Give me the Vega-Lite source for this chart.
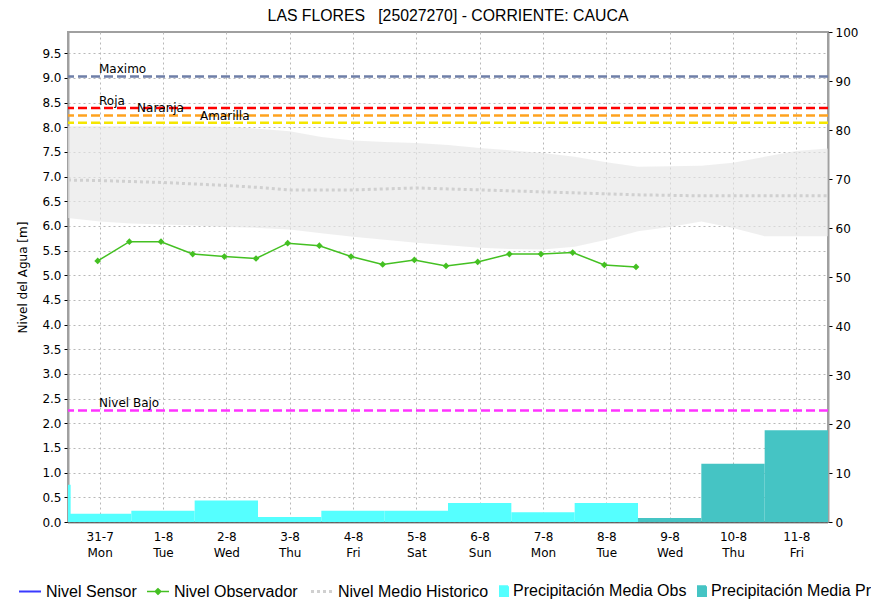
{
  "$schema": "https://vega.github.io/schema/vega-lite/v6.json",
  "width": 760,
  "height": 490,
  "autosize": {"type": "none"},
  "padding": {"left": 68, "top": 32, "right": 43, "bottom": 84},
  "background": "white",
  "title": {
    "text": "LAS FLORES \u00a0 [25027270] - CORRIENTE: CAUCA",
    "font": "Liberation Sans",
    "fontSize": 15.8,
    "fontWeight": "normal",
    "color": "#000000",
    "anchor": "middle",
    "baseline": "bottom",
    "offset": 9,
    "dy": 23
  },
  "config": {
    "view": {"stroke": "#a0a0a0", "strokeWidth": 2},
    "axis": {
      "labelFont": "DejaVu Sans",
      "labelFontSize": 12,
      "labelColor": "#000000",
      "titleFont": "DejaVu Sans",
      "titleFontSize": 12,
      "titleFontWeight": "normal",
      "titleColor": "#000000"
    }
  },
  "datasets": {
    "hist": [
      {"t": "2023-07-30T12:00", "sup": 8.02, "inf": 6.16, "media": 6.93, "serie": "Nivel Medio Historico"},
      {"t": "2023-07-31T00:00", "sup": 8.02, "inf": 6.09, "media": 6.92, "serie": "Nivel Medio Historico"},
      {"t": "2023-07-31T12:00", "sup": 8.02, "inf": 6.05, "media": 6.90, "serie": "Nivel Medio Historico"},
      {"t": "2023-08-01T00:00", "sup": 8.02, "inf": 6.03, "media": 6.88, "serie": "Nivel Medio Historico"},
      {"t": "2023-08-01T12:00", "sup": 8.02, "inf": 6.01, "media": 6.85, "serie": "Nivel Medio Historico"},
      {"t": "2023-08-02T00:00", "sup": 8.01, "inf": 5.98, "media": 6.82, "serie": "Nivel Medio Historico"},
      {"t": "2023-08-02T12:00", "sup": 7.97, "inf": 5.96, "media": 6.78, "serie": "Nivel Medio Historico"},
      {"t": "2023-08-03T00:00", "sup": 7.92, "inf": 5.93, "media": 6.73, "serie": "Nivel Medio Historico"},
      {"t": "2023-08-03T12:00", "sup": 7.80, "inf": 5.85, "media": 6.73, "serie": "Nivel Medio Historico"},
      {"t": "2023-08-04T00:00", "sup": 7.73, "inf": 5.78, "media": 6.73, "serie": "Nivel Medio Historico"},
      {"t": "2023-08-04T12:00", "sup": 7.70, "inf": 5.72, "media": 6.75, "serie": "Nivel Medio Historico"},
      {"t": "2023-08-05T00:00", "sup": 7.68, "inf": 5.66, "media": 6.77, "serie": "Nivel Medio Historico"},
      {"t": "2023-08-05T12:00", "sup": 7.64, "inf": 5.61, "media": 6.75, "serie": "Nivel Medio Historico"},
      {"t": "2023-08-06T00:00", "sup": 7.58, "inf": 5.56, "media": 6.73, "serie": "Nivel Medio Historico"},
      {"t": "2023-08-06T12:00", "sup": 7.53, "inf": 5.53, "media": 6.71, "serie": "Nivel Medio Historico"},
      {"t": "2023-08-07T00:00", "sup": 7.48, "inf": 5.52, "media": 6.69, "serie": "Nivel Medio Historico"},
      {"t": "2023-08-07T12:00", "sup": 7.40, "inf": 5.58, "media": 6.67, "serie": "Nivel Medio Historico"},
      {"t": "2023-08-08T00:00", "sup": 7.29, "inf": 5.72, "media": 6.65, "serie": "Nivel Medio Historico"},
      {"t": "2023-08-08T12:00", "sup": 7.20, "inf": 5.89, "media": 6.63, "serie": "Nivel Medio Historico"},
      {"t": "2023-08-09T00:00", "sup": 7.21, "inf": 5.98, "media": 6.62, "serie": "Nivel Medio Historico"},
      {"t": "2023-08-09T12:00", "sup": 7.22, "inf": 6.09, "media": 6.61, "serie": "Nivel Medio Historico"},
      {"t": "2023-08-10T00:00", "sup": 7.28, "inf": 5.96, "media": 6.61, "serie": "Nivel Medio Historico"},
      {"t": "2023-08-10T12:00", "sup": 7.40, "inf": 5.79, "media": 6.61, "serie": "Nivel Medio Historico"},
      {"t": "2023-08-11T00:00", "sup": 7.52, "inf": 5.79, "media": 6.61, "serie": "Nivel Medio Historico"},
      {"t": "2023-08-11T12:00", "sup": 7.57, "inf": 5.79, "media": 6.61, "serie": "Nivel Medio Historico"}
    ],
    "obs": [
      {"t": "2023-07-30T23:15", "nivel": 5.29, "serie": "Nivel Observador"},
      {"t": "2023-07-31T11:15", "nivel": 5.68, "serie": "Nivel Observador"},
      {"t": "2023-07-31T23:15", "nivel": 5.68, "serie": "Nivel Observador"},
      {"t": "2023-08-01T11:15", "nivel": 5.43, "serie": "Nivel Observador"},
      {"t": "2023-08-01T23:15", "nivel": 5.38, "serie": "Nivel Observador"},
      {"t": "2023-08-02T11:15", "nivel": 5.34, "serie": "Nivel Observador"},
      {"t": "2023-08-02T23:15", "nivel": 5.65, "serie": "Nivel Observador"},
      {"t": "2023-08-03T11:15", "nivel": 5.60, "serie": "Nivel Observador"},
      {"t": "2023-08-03T23:15", "nivel": 5.38, "serie": "Nivel Observador"},
      {"t": "2023-08-04T11:15", "nivel": 5.22, "serie": "Nivel Observador"},
      {"t": "2023-08-04T23:15", "nivel": 5.31, "serie": "Nivel Observador"},
      {"t": "2023-08-05T11:15", "nivel": 5.19, "serie": "Nivel Observador"},
      {"t": "2023-08-05T23:15", "nivel": 5.27, "serie": "Nivel Observador"},
      {"t": "2023-08-06T11:15", "nivel": 5.43, "serie": "Nivel Observador"},
      {"t": "2023-08-06T23:15", "nivel": 5.43, "serie": "Nivel Observador"},
      {"t": "2023-08-07T11:15", "nivel": 5.46, "serie": "Nivel Observador"},
      {"t": "2023-08-07T23:15", "nivel": 5.21, "serie": "Nivel Observador"},
      {"t": "2023-08-08T11:15", "nivel": 5.17, "serie": "Nivel Observador"}
    ],
    "precip": [
      {"t": "2023-07-30T12:00", "t2": "2023-07-30T13:00", "valor": 7.6, "serie": "Precipitación Media Obs"},
      {"t": "2023-07-30T12:00", "t2": "2023-07-31T12:00", "valor": 1.7, "serie": "Precipitación Media Obs"},
      {"t": "2023-07-31T12:00", "t2": "2023-08-01T12:00", "valor": 2.3, "serie": "Precipitación Media Obs"},
      {"t": "2023-08-01T12:00", "t2": "2023-08-02T12:00", "valor": 4.4, "serie": "Precipitación Media Obs"},
      {"t": "2023-08-02T12:00", "t2": "2023-08-03T12:00", "valor": 1.0, "serie": "Precipitación Media Obs"},
      {"t": "2023-08-03T12:00", "t2": "2023-08-04T12:00", "valor": 2.3, "serie": "Precipitación Media Obs"},
      {"t": "2023-08-04T12:00", "t2": "2023-08-05T12:00", "valor": 2.3, "serie": "Precipitación Media Obs"},
      {"t": "2023-08-05T12:00", "t2": "2023-08-06T12:00", "valor": 3.9, "serie": "Precipitación Media Obs"},
      {"t": "2023-08-06T12:00", "t2": "2023-08-07T12:00", "valor": 2.0, "serie": "Precipitación Media Obs"},
      {"t": "2023-08-07T12:00", "t2": "2023-08-08T12:00", "valor": 3.9, "serie": "Precipitación Media Obs"},
      {"t": "2023-08-08T12:00", "t2": "2023-08-09T12:00", "valor": 0.8, "serie": "Precipitación Media Pronosticada"},
      {"t": "2023-08-09T12:00", "t2": "2023-08-10T12:00", "valor": 11.9, "serie": "Precipitación Media Pronosticada"},
      {"t": "2023-08-10T12:00", "t2": "2023-08-11T12:00", "valor": 18.7, "serie": "Precipitación Media Pronosticada"}
    ],
    "umbrales": [
      {"nombre": "Maximo", "nivel": 9.03},
      {"nombre": "Roja", "nivel": 8.39},
      {"nombre": "Naranja", "nivel": 8.24},
      {"nombre": "Amarilla", "nivel": 8.09},
      {"nombre": "Nivel Bajo", "nivel": 2.26}
    ]
  },
  "layer": [
    {
      "layer": [
        {
          "data": {"name": "hist"},
          "mark": {"type": "area", "color": "#e6e6e6", "opacity": 0.65},
          "encoding": {
            "x": {
              "field": "t", "type": "temporal",
              "scale": {"domain": [{"year": 2023, "month": 7, "date": 30, "hours": 12}, {"year": 2023, "month": 8, "date": 11, "hours": 12}]},
              "axis": {
                "title": null,
                "tickCount": {"interval": "day", "step": 1},
                "labelExpr": "[timeFormat(datum.value, '%-d-%-m'), timeFormat(datum.value, '%a')]",
                "grid": true, "gridColor": "#b8b8b8", "gridDash": [2, 3],
                "ticks": false, "tickSize": 0, "labelPadding": 9, "labelLineHeight": 16,
                "labelFlush": false, "labelOverlap": false,
                "domainColor": "#222222", "domainDash": [1, 1], "domainWidth": 2
              }
            },
            "y": {
              "field": "sup", "type": "quantitative",
              "scale": {"domain": [0, 9.93], "nice": false},
              "axis": {
                "title": "Nivel del Agua [m]", "titlePadding": 12,
                "values": [0, 0.5, 1, 1.5, 2, 2.5, 3, 3.5, 4, 4.5, 5, 5.5, 6, 6.5, 7, 7.5, 8, 8.5, 9, 9.5],
                "format": ".1f",
                "grid": true, "gridColor": "#b8b8b8", "gridDash": [2, 3],
                "tickSize": 4, "tickColor": "#000000", "labelPadding": 3, "labelFlush": false, "labelOverlap": false,
                "domainColor": "#a0a0a0", "domainWidth": 2
              }
            },
            "y2": {"field": "inf"}
          }
        },
        {
          "data": {"name": "hist"},
          "mark": {"type": "line", "strokeDash": [3, 3], "strokeWidth": 3},
          "encoding": {
            "x": {"field": "t", "type": "temporal"},
            "y": {
              "field": "media", "type": "quantitative",
              "axis": {
                "title": "Nivel del Agua [m]", "titlePadding": 12,
                "values": [0, 0.5, 1, 1.5, 2, 2.5, 3, 3.5, 4, 4.5, 5, 5.5, 6, 6.5, 7, 7.5, 8, 8.5, 9, 9.5],
                "format": ".1f",
                "grid": true, "gridColor": "#b8b8b8", "gridDash": [2, 3],
                "tickSize": 4, "tickColor": "#000000", "labelPadding": 3, "labelFlush": false, "labelOverlap": false,
                "domainColor": "#a0a0a0", "domainWidth": 2
              }
            },
            "color": {
              "field": "serie", "type": "nominal",
              "scale": {
                "domain": ["Nivel Sensor", "Nivel Observador", "Nivel Medio Historico", "Precipitación Media Obs", "Precipitación Media Pronosticada"],
                "range": ["#3a3aff", "#44c022", "#d0d0d0", "#55ffff", "#45c4c4"]
              },
              "legend": {
                "orient": "none", "legendX": -39, "legendY": 551,
                "direction": "horizontal", "title": null, "padding": 0,
                "labelFont": "Liberation Sans",
                "labelFontSize": 16, "labelColor": "#000000", "labelLimit": 400,
                "labelExpr": "(datum.label == 'Nivel Sensor' || datum.label == 'Nivel Observador') ? datum.label + '\u00a0\u00a0\u00a0' : datum.label",
                "symbolSize": 64, "labelOffset": 1, "columnPadding": 7,
                "encode": {
                  "symbols": {
                    "update": {
                      "shape": {"signal": "datum.value == 'Nivel Observador' ? 'M-4.5,0L1,0M-2.45,0L-1.75,-0.7L-1.05,0L-1.75,0.7Z' : (indexof(datum.value, 'Precipitaci') == 0 ? 'M-1,-1.2L1,-1.2L1,1.2L-1,1.2Z' : 'M-4.5,0L1,0')"},
                      "fill": {"scale": "color", "field": "value"},
                      "stroke": {"scale": "color", "field": "value"},
                      "strokeWidth": {"signal": "datum.value == 'Nivel Medio Historico' ? 3 : (datum.value == 'Nivel Observador' ? 1.5 : 2)"},
                      "strokeDash": {"signal": "datum.value == 'Nivel Medio Historico' ? [3, 3] : [1, 0]"},
                      "opacity": {"value": 1}
                    }
                  }
                }
              }
            }
          }
        },
        {
          "data": {"name": "umbrales"},
          "mark": {"type": "rule", "strokeDash": [9, 4], "strokeWidth": 2.5},
          "encoding": {
            "y": {
              "field": "nivel", "type": "quantitative",
              "axis": {
                "title": "Nivel del Agua [m]", "titlePadding": 12,
                "values": [0, 0.5, 1, 1.5, 2, 2.5, 3, 3.5, 4, 4.5, 5, 5.5, 6, 6.5, 7, 7.5, 8, 8.5, 9, 9.5],
                "format": ".1f",
                "grid": true, "gridColor": "#b8b8b8", "gridDash": [2, 3],
                "tickSize": 4, "tickColor": "#000000", "labelPadding": 3, "labelFlush": false, "labelOverlap": false,
                "domainColor": "#a0a0a0", "domainWidth": 2
              }
            },
            "stroke": {
              "field": "nombre", "type": "nominal",
              "scale": {"domain": ["Maximo", "Roja", "Naranja", "Amarilla", "Nivel Bajo"], "range": ["#6f7fa8", "#ff0000", "#ffa21f", "#f5e600", "#ff33ff"]},
              "legend": null
            }
          }
        },
        {
          "data": {"name": "umbrales"},
          "transform": [{"filter": "indexof(['Maximo', 'Roja', 'Nivel Bajo'], datum.nombre) >= 0"}],
          "mark": {"type": "text", "align": "left", "baseline": "middle", "dy": -7, "font": "DejaVu Sans", "fontSize": 12, "color": "#000000"},
          "encoding": {
            "x": {"datum": {"year": 2023, "month": 7, "date": 30, "hours": 23, "minutes": 45}, "type": "temporal"},
            "y": {
              "field": "nivel", "type": "quantitative",
              "axis": {
                "title": "Nivel del Agua [m]", "titlePadding": 12,
                "values": [0, 0.5, 1, 1.5, 2, 2.5, 3, 3.5, 4, 4.5, 5, 5.5, 6, 6.5, 7, 7.5, 8, 8.5, 9, 9.5],
                "format": ".1f",
                "grid": true, "gridColor": "#b8b8b8", "gridDash": [2, 3],
                "tickSize": 4, "tickColor": "#000000", "labelPadding": 3, "labelFlush": false, "labelOverlap": false,
                "domainColor": "#a0a0a0", "domainWidth": 2
              }
            },
            "text": {"field": "nombre"}
          }
        },
        {
          "data": {"name": "umbrales"},
          "transform": [{"filter": "datum.nombre == 'Naranja'"}],
          "mark": {"type": "text", "align": "left", "baseline": "middle", "dy": -7, "font": "DejaVu Sans", "fontSize": 12, "color": "#000000"},
          "encoding": {
            "x": {"datum": {"year": 2023, "month": 7, "date": 31, "hours": 14, "minutes": 10}, "type": "temporal"},
            "y": {
              "field": "nivel", "type": "quantitative",
              "axis": {
                "title": "Nivel del Agua [m]", "titlePadding": 12,
                "values": [0, 0.5, 1, 1.5, 2, 2.5, 3, 3.5, 4, 4.5, 5, 5.5, 6, 6.5, 7, 7.5, 8, 8.5, 9, 9.5],
                "format": ".1f",
                "grid": true, "gridColor": "#b8b8b8", "gridDash": [2, 3],
                "tickSize": 4, "tickColor": "#000000", "labelPadding": 3, "labelFlush": false, "labelOverlap": false,
                "domainColor": "#a0a0a0", "domainWidth": 2
              }
            },
            "text": {"field": "nombre"}
          }
        },
        {
          "data": {"name": "umbrales"},
          "transform": [{"filter": "datum.nombre == 'Amarilla'"}],
          "mark": {"type": "text", "align": "left", "baseline": "middle", "dy": -7, "font": "DejaVu Sans", "fontSize": 12, "color": "#000000"},
          "encoding": {
            "x": {"datum": {"year": 2023, "month": 8, "date": 1, "hours": 14}, "type": "temporal"},
            "y": {
              "field": "nivel", "type": "quantitative",
              "axis": {
                "title": "Nivel del Agua [m]", "titlePadding": 12,
                "values": [0, 0.5, 1, 1.5, 2, 2.5, 3, 3.5, 4, 4.5, 5, 5.5, 6, 6.5, 7, 7.5, 8, 8.5, 9, 9.5],
                "format": ".1f",
                "grid": true, "gridColor": "#b8b8b8", "gridDash": [2, 3],
                "tickSize": 4, "tickColor": "#000000", "labelPadding": 3, "labelFlush": false, "labelOverlap": false,
                "domainColor": "#a0a0a0", "domainWidth": 2
              }
            },
            "text": {"field": "nombre"}
          }
        },
        {
          "data": {"name": "obs"},
          "mark": {"type": "line", "strokeWidth": 1.5},
          "encoding": {
            "x": {"field": "t", "type": "temporal"},
            "y": {
              "field": "nivel", "type": "quantitative",
              "axis": {
                "title": "Nivel del Agua [m]", "titlePadding": 12,
                "values": [0, 0.5, 1, 1.5, 2, 2.5, 3, 3.5, 4, 4.5, 5, 5.5, 6, 6.5, 7, 7.5, 8, 8.5, 9, 9.5],
                "format": ".1f",
                "grid": true, "gridColor": "#b8b8b8", "gridDash": [2, 3],
                "tickSize": 4, "tickColor": "#000000", "labelPadding": 3, "labelFlush": false, "labelOverlap": false,
                "domainColor": "#a0a0a0", "domainWidth": 2
              }
            },
            "color": {"field": "serie", "type": "nominal"}
          }
        },
        {
          "data": {"name": "obs"},
          "mark": {"type": "point", "shape": "diamond", "filled": true, "size": 45, "opacity": 1},
          "encoding": {
            "x": {"field": "t", "type": "temporal"},
            "y": {
              "field": "nivel", "type": "quantitative",
              "axis": {
                "title": "Nivel del Agua [m]", "titlePadding": 12,
                "values": [0, 0.5, 1, 1.5, 2, 2.5, 3, 3.5, 4, 4.5, 5, 5.5, 6, 6.5, 7, 7.5, 8, 8.5, 9, 9.5],
                "format": ".1f",
                "grid": true, "gridColor": "#b8b8b8", "gridDash": [2, 3],
                "tickSize": 4, "tickColor": "#000000", "labelPadding": 3, "labelFlush": false, "labelOverlap": false,
                "domainColor": "#a0a0a0", "domainWidth": 2
              }
            },
            "color": {"field": "serie", "type": "nominal"}
          }
        },
        {
          "mark": {"type": "rule", "color": "#ff3030", "strokeWidth": 1.5},
          "encoding": {
            "x": {"datum": {"year": 2023, "month": 8, "date": 8, "hours": 15}, "type": "temporal"}
          }
        }
      ]
    },
    {
      "data": {"name": "precip"},
      "mark": {"type": "rect", "opacity": 1},
      "encoding": {
        "x": {"field": "t", "type": "temporal"},
        "x2": {"field": "t2"},
        "y": {
          "field": "valor", "type": "quantitative",
          "scale": {"domain": [0, 100], "nice": false},
          "axis": {
            "orient": "right", "title": null,
            "values": [0, 10, 20, 30, 40, 50, 60, 70, 80, 90, 100],
            "grid": false, "tickSize": 4, "tickColor": "#000000", "labelPadding": 3, "labelFlush": false, "labelOverlap": false,
            "domainColor": "#a0a0a0", "domainWidth": 2
          }
        },
        "y2": {"datum": 0},
        "color": {"field": "serie", "type": "nominal"}
      }
    }
  ],
  "resolve": {"scale": {"y": "independent"}}
}
